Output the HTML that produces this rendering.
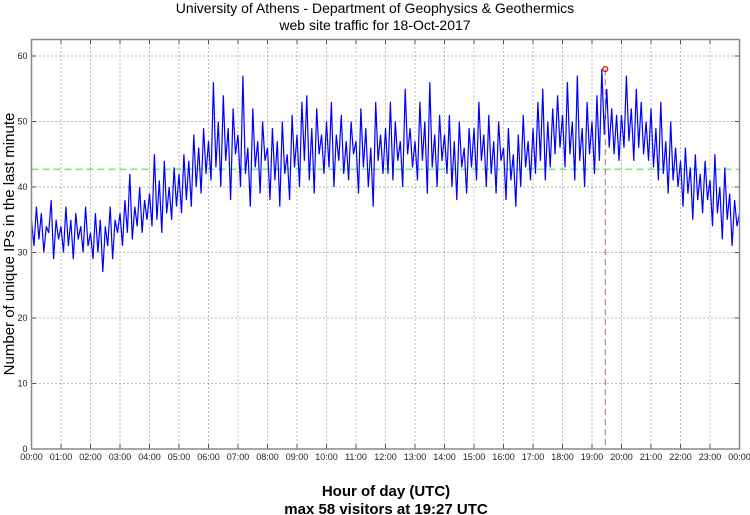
<!DOCTYPE html>
<html><head><meta charset="utf-8"><style>
body{margin:0;background:#fff}
svg{display:block;font-family:"Liberation Sans",sans-serif}
</style></head><body>
<svg id="chart" width="750" height="515" viewBox="0 0 750 515" xmlns="http://www.w3.org/2000/svg">
<text x="375" y="13" text-anchor="middle" font-size="14">University of Athens - Department of Geophysics &amp; Geothermics</text>
<text x="375" y="30" text-anchor="middle" font-size="14">web site traffic for 18-Oct-2017</text>
<g id="grid"></g>
<g id="marks"></g>
<g id="axes"></g>
<text x="386" y="496" text-anchor="middle" font-size="15" font-weight="bold">Hour of day (UTC)</text>
<text x="386" y="514" text-anchor="middle" font-size="15" font-weight="bold">max 58 visitors at 19:27 UTC</text>
<text transform="translate(14,244) rotate(-90)" text-anchor="middle" font-size="15">Number of unique IPs in the last minute</text>
</svg>
<script>
// 5-minute samples (visitors)
const values = [
35,31,37,32,36,30,34,33,38,29,35,32,
34,30,37,31,35,29,36,32,34,30,37,31,
33,29,36,30,35,27,34,31,37,29,35,33,
36,31,38,33,42,32,37,34,40,33,38,35,
39,34,45,35,41,33,44,36,40,35,43,37,
42,36,45,38,44,37,48,40,46,39,49,42,
47,41,56,43,50,40,54,44,49,38,52,45,
48,40,57,42,46,37,52,43,47,39,50,44,
46,38,49,41,47,37,50,42,45,38,51,43,
48,40,53,44,54,41,49,39,52,45,48,42,
50,43,53,40,48,44,51,42,47,41,50,45,
47,39,52,43,49,40,46,37,53,44,48,42,
49,42,53,41,50,44,47,40,55,45,49,43,
47,41,53,44,50,39,56,43,48,40,51,44,
48,42,51,40,47,38,50,43,46,39,49,43,
49,41,53,44,48,40,51,42,47,39,50,44,
46,38,49,41,45,37,48,40,51,43,47,41,
49,42,53,44,55,41,50,43,52,45,54,46,
51,43,56,45,50,41,57,44,49,40,53,45,
50,42,54,44,58,48,55,46,52,45,51,44,
51,46,57,47,52,44,55,46,53,45,50,44,
52,43,49,41,53,42,47,39,50,41,46,40,
44,37,46,39,43,35,45,38,42,36,44,38,
41,34,45,36,40,32,43,35,39,31,38,34,36];
const sampleMinutes = 5;
const averageValue = [42.7];
const peakMinute = [1167];
const peakValue = [58];
const yTicks = [0,10,20,30,40,50,60];
const xTickLabels = ["00:00","01:00","02:00","03:00","04:00","05:00","06:00","07:00","08:00","09:00","10:00","11:00","12:00","13:00","14:00","15:00","16:00","17:00","18:00","19:00","20:00","21:00","22:00","23:00","00:00"];

const NS="http://www.w3.org/2000/svg";
const X0=31.5,X1=739.5,Y0=449,YTOP=39.5;
const xs=m=>X0+(X1-X0)*m/1440;
const ys=v=>Y0-v*6.55;
function mk(tag,attrs,parent){const e=document.createElementNS(NS,tag);for(const k in attrs)e.setAttribute(k,attrs[k]);parent.appendChild(e);return e;}
const grid=document.getElementById('grid'),marks=document.getElementById('marks'),axes=document.getElementById('axes');

yTicks.forEach(v=>{
  if(v>0){const g=mk('line',{x1:X0,x2:X1,y1:ys(v),y2:ys(v),stroke:'#777','stroke-dasharray':'1 3','stroke-width':1},grid);
  
  }
  const t=mk('line',{x1:X0,x2:X0+5,y1:ys(v),y2:ys(v),stroke:'#555'},axes);
  
  
  const t2=mk('line',{x1:X1-5,x2:X1,y1:ys(v),y2:ys(v),stroke:'#555'},axes);
  
  
  const l=mk('text',{x:X0-4,y:ys(v)+3,'text-anchor':'end','font-size':9,fill:'#222'},axes);
  l.textContent=v;
  
  
});
xTickLabels.forEach((s,i)=>{
  const x=xs(i*60);
  if(i>0&&i<24){const g=mk('line',{x1:x,x2:x,y1:YTOP,y2:Y0,stroke:'#777','stroke-dasharray':'1 3'},grid);
  
  }
  const t=mk('line',{x1:x,x2:x,y1:Y0-5,y2:Y0,stroke:'#555'},axes);
  
  
  const t2=mk('line',{x1:x,x2:x,y1:YTOP,y2:YTOP+5,stroke:'#555'},axes);
  
  
  const l=mk('text',{x:x,y:Y0+11,'text-anchor':'middle','font-size':9,fill:'#222'},axes);
  l.textContent=s;
  
  
});
const avg=mk('line',{x1:X0,x2:X1,y1:ys(averageValue[0]),y2:ys(averageValue[0]),stroke:'#77ee77','stroke-width':1.6,'stroke-dasharray':'7 4'},marks);


const pts=values.map((v,i)=>xs(i*sampleMinutes).toFixed(1)+','+ys(v).toFixed(1)).join(' ');
const line=mk('polyline',{points:pts,fill:'none',stroke:'#0000ff','stroke-width':1.2},marks);


const vl=mk('line',{x1:xs(peakMinute[0]),x2:xs(peakMinute[0]),y1:ys(peakValue[0]),y2:Y0,stroke:'#aa6666','stroke-dasharray':'6 4'},marks);


const c=mk('circle',{cx:xs(peakMinute[0]),cy:ys(peakValue[0]),r:2.5,fill:'none',stroke:'#ff0000','stroke-width':1.2},marks);


const fr=mk('rect',{x:X0,y:YTOP,width:X1-X0,height:Y0-YTOP,fill:'none',stroke:'#888','stroke-width':1.5},axes);


</script>
</body></html>
